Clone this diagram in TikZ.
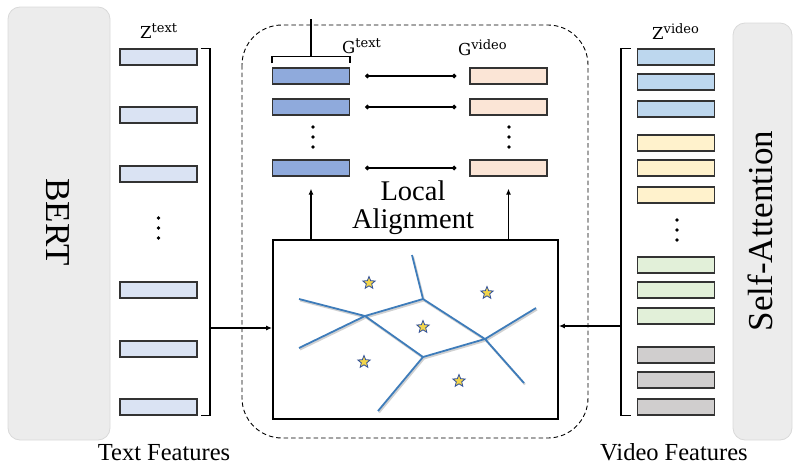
\documentclass[tikz,border=0pt]{standalone}
\usepackage{fontspec}
\setmainfont{Liberation Serif}
\newfontfamily\labfont{DejaVu Serif}
\usetikzlibrary{arrows.meta,shapes.geometric}

\definecolor{panelfill}{HTML}{ECECEC}
\definecolor{panelline}{HTML}{D9D9D9}
\definecolor{barline}{HTML}{333333}
\definecolor{textbar}{HTML}{DAE3F3}
\definecolor{gtext}{HTML}{8FAADC}
\definecolor{gvideo}{HTML}{FBE5D6}
\definecolor{vblue}{HTML}{BDD7EE}
\definecolor{vyellow}{HTML}{FFF2CC}
\definecolor{vgreen}{HTML}{E2F0D9}
\definecolor{vgray}{HTML}{D0CECE}
\definecolor{cellblue}{HTML}{3E7CBA}
\definecolor{starblue}{HTML}{2F4F9A}
\definecolor{staryellow}{HTML}{F3D54A}

\tikzset{
  panel/.style={draw=panelline, fill=panelfill, rounded corners=12pt, line width=0.8pt},
  bar/.style={draw=barline, line width=1.2pt, minimum width=77pt, minimum height=16pt, inner sep=0pt},
  brace/.style={line width=1.6pt},
  pair/.style={{Circle[length=4.5pt]}-{Circle[length=4.5pt]}, line width=1.3pt, shorten <=15pt, shorten >=13pt},
  cell/.style={draw=cellblue, line width=1.8pt},
  cellshadow/.style={draw=black!18, line width=2pt, transform canvas={shift={(1pt,-1.5pt)}}},
  site/.style={star, star points=5, star point ratio=2.3, draw=starblue, fill=staryellow, line width=0.8pt, minimum size=13pt, inner sep=0pt},
  bigtext/.style={font=\fontsize{35}{35}\selectfont, inner sep=0pt},
  captext/.style={font=\fontsize{24.5}{25}\selectfont, anchor=base, inner sep=0pt},
  lab/.style={anchor=base west, inner sep=0pt},
}

\newcommand{\featlab}[2]{{\labfont\fontsize{16.5}{17}\selectfont #1\raisebox{6pt}{\fontsize{13}{13}\selectfont #2}}}

\begin{document}
\begin{tikzpicture}[x=1pt, y=-1pt, >={Latex[length=6pt,width=5pt]}]
  \useasboundingbox (0,0) rectangle (796,466);

  % Side panels
  \draw[panel] (8,7) rectangle (110,440);
  \node[bigtext, rotate=-90] (bert) at (57.5,222) {BERT};
  \draw[panel] (733,23) rectangle (792,440);
  \node[bigtext, rotate=90] (selfatt) at (760,231) {Self-Attention};

  % Dashed region
  \draw[dashed, line width=0.9pt, dash pattern=on 4.5pt off 3pt, rounded corners=40pt] (242,25) rectangle (588,438);

  % Voronoi box
  \node[draw, line width=1.8pt, minimum width=285pt, minimum height=179pt, inner sep=0pt] (box) at (415.5,329.5) {};

  % Text features
  \foreach \y [count=\i] in {57,115,174,290,349,407}
    \node[bar, fill=textbar] (t\i) at (158.5,\y) {};
  \foreach \y in {218,228,238} \fill (158.5,\y) circle (1.8pt);
  \node[lab] (ztext) at (140,38) {\featlab{Z}{text}};

  % Video features
  \foreach \y/\c [count=\i] in {57/vblue,82/vblue,109/vblue,143/vyellow,168/vyellow,195/vyellow,265/vgreen,290/vgreen,316/vgreen,355/vgray,380/vgray,407/vgray}
    \node[bar, fill=\c] (v\i) at (676,\y) {};
  \foreach \y in {220,230,240} \fill (677,\y) circle (1.8pt);
  \node[lab] (zvideo) at (652,39) {\featlab{Z}{video}};

  % Brackets and inputs
  \coordinate (lb) at (210,328);
  \draw[brace] ([xshift=3pt]t1.north east) -| (lb) |- ([xshift=3pt]t6.south east);
  \draw[->, line width=1.3pt] (lb) -- (lb -| box.west);
  \coordinate (rb) at (621,326);
  \draw[brace] ([xshift=-6pt]v1.north west) -| (rb) |- ([xshift=-6pt]v12.south west);
  \draw[->, line width=1.3pt] (rb) -- (rb -| box.east);

  % Local features
  \foreach \y [count=\i] in {76,107,168} {
    \node[bar, fill=gtext] (g\i) at (311,\y) {};
    \node[bar, fill=gvideo] (h\i) at (508.5,\y) {};
    \draw[pair] (g\i) -- (h\i);
  }
  \foreach \y in {127,137,147} {
    \fill (313,\y) circle (1.8pt);
    \fill (509,\y) circle (1.8pt);
  }
  \draw[brace] ([yshift=4pt]g1.north west) -- ++(0,-7) -| ([yshift=4pt]g1.north east);
  \draw[brace] ([yshift=11pt]g1.north) -- ++(0,-37);
  \node[lab] (gtextlab) at (342,53) {\featlab{G}{text}};
  \node[lab] (gvideolab) at (458,55) {\featlab{G}{video}};

  % Alignment arrows
  \draw[->, line width=1.3pt, shorten >=12pt] (box.north -| g3) -- (g3);
  \draw[->, line width=1.3pt, shorten >=12pt] (box.north -| h3) -- (h3);
  \node[font=\fontsize{28.5}{28}\selectfont, align=center, anchor=north, inner sep=0pt] (local) at (413,181) {Local\\Alignment};

  % Cells
  \coordinate (va) at (365,316);
  \coordinate (vb) at (423,299);
  \coordinate (vc) at (485,339);
  \coordinate (vd) at (423,357);
  \foreach \s in {cellshadow,cell}
    \draw[\s] (299,299) -- (va) -- (299,348) (va) -- (vb) -- (vc) -- (vd) -- cycle
      (vb) -- (412,255) (vc) -- (536,308) (vc) -- (524,383) (vd) -- (378,411);
  \foreach \p [count=\i] in {(369,283),(487,293),(423,327),(364,362),(459,381)}
    \node[site] (s\i) at \p {};

  % Captions
  \node[captext] (textfeat) at (164,460) {Text Features};
  \node[captext] (videofeat) at (674,460) {Video Features};
\end{tikzpicture}
\end{document}
